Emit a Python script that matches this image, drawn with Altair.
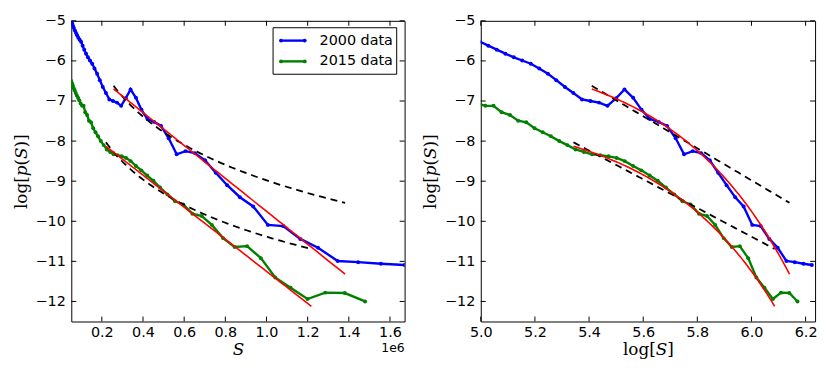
import altair as alt
import numpy as np
import pandas as pd

# ---------------- data ----------------
series_names = ["2000 data", "2015 data"]

logS_2000 = [4.713, 4.744, 4.776, 4.807, 4.839, 4.870, 4.902, 4.933, 4.965, 4.996,
             5.028, 5.059, 5.091, 5.122, 5.153, 5.185, 5.216, 5.248, 5.279, 5.311,
             5.342, 5.374, 5.405, 5.437, 5.468, 5.500, 5.531, 5.563, 5.594, 5.625,
             5.657, 5.688, 5.720, 5.751, 5.783, 5.814, 5.846, 5.877, 5.908, 5.940,
             5.971, 6.003, 6.034, 6.066, 6.097, 6.129, 6.160, 6.192, 6.223]
logp_2000 = [-5.00, -5.06, -5.12, -5.18, -5.24, -5.30, -5.36, -5.42, -5.47, -5.52,
             -5.62, -5.72, -5.82, -5.91, -5.99, -6.07, -6.19, -6.32, -6.48, -6.65,
             -6.80, -6.96, -7.00, -7.04, -7.12, -6.93, -6.71, -6.92, -7.22, -7.45,
             -7.52, -7.62, -7.93, -8.33, -8.25, -8.30, -8.48, -8.79, -9.10, -9.40,
             -9.63, -10.09, -10.12, -10.44, -10.66, -10.99, -11.02, -11.06, -11.09]

logS_2015 = [4.713, 4.743, 4.774, 4.804, 4.834, 4.865, 4.895, 4.925, 4.956, 4.986,
             5.017, 5.047, 5.077, 5.108, 5.138, 5.168, 5.199, 5.229, 5.259, 5.290,
             5.320, 5.350, 5.381, 5.411, 5.441, 5.472, 5.502, 5.532, 5.563, 5.593,
             5.624, 5.654, 5.684, 5.715, 5.745, 5.775, 5.806, 5.836, 5.866, 5.897,
             5.927, 5.957, 5.988, 6.018, 6.048, 6.079, 6.109, 6.140, 6.170]
logp_2015 = [-6.50, -6.56, -6.62, -6.68, -6.74, -6.80, -6.86, -6.92, -6.98, -7.06,
             -7.12, -7.12, -7.28, -7.35, -7.49, -7.53, -7.68, -7.78, -7.88, -8.00,
             -8.10, -8.21, -8.27, -8.33, -8.35, -8.38, -8.42, -8.50, -8.62, -8.73,
             -8.86, -8.99, -9.16, -9.33, -9.50, -9.58, -9.81, -9.87, -10.09, -10.42,
             -10.64, -10.62, -10.92, -11.40, -11.66, -11.94, -11.78, -11.79, -12.00]

# fitted models: exponential (straight in S) and power law (straight in log S)
fit_S_start = [0.257, 0.220]      # units of 1e6
fit_S_end = [1.382, 1.218]
exp_fit_start = [-6.70, -8.13]
exp_fit_end = [-11.32, -12.12]
pow_fit_start = [-6.62, -8.03]
pow_fit_end = [-9.54, -10.69]

x_ticks_left = [0.2, 0.4, 0.6, 0.8, 1.0, 1.2, 1.4, 1.6]
x_ticks_right = [5.0, 5.2, 5.4, 5.6, 5.8, 6.0, 6.2]
y_ticks = [-5, -6, -7, -8, -9, -10, -11, -12]

BLUE = "#0000ff"
GREEN = "#008000"
RED = "#ff0000"

# ---------------- tables ----------------
rows = []
for name, Ls, ps in ((series_names[0], logS_2000, logp_2000),
                     (series_names[1], logS_2015, logp_2015)):
    for L, p in zip(Ls, ps):
        rows.append({"series": name, "logS": L, "S": 10 ** L / 1e6, "logp": p})
df = pd.DataFrame(rows)

fit_rows = []
for i, name in enumerate(series_names):
    L0 = np.log10(fit_S_start[i] * 1e6)
    L1 = np.log10(fit_S_end[i] * 1e6)
    for t in np.linspace(0, 1, 81):
        L = L0 + t * (L1 - L0)
        S = 10 ** L / 1e6
        v_exp = exp_fit_start[i] + (S - fit_S_start[i]) / (fit_S_end[i] - fit_S_start[i]) * (exp_fit_end[i] - exp_fit_start[i])
        v_pow = pow_fit_start[i] + t * (pow_fit_end[i] - pow_fit_start[i])
        fit_rows.append({"series": name, "kind": "exp", "t": t, "logS": L, "S": S, "logp": v_exp})
        fit_rows.append({"series": name, "kind": "pow", "t": t, "logS": L, "S": S, "logp": v_pow})
fits = pd.DataFrame(fit_rows)

H = 304
TICK = 5
Y_TITLE = "log[\U0001D45D(\U0001D446)]"


def panel(xf, dom, xt, xtitle, W, left):
    X = alt.X(f"{xf}:Q", scale=alt.Scale(domain=dom, nice=False, zero=False),
              axis=alt.Axis(values=xt, format=".1f", title=xtitle, labelPadding=4,
                            titlePadding=3, labelFlush=False))
    Y = alt.Y("logp:Q", scale=alt.Scale(domain=[-12.5, -5], nice=False, zero=False),
              axis=alt.Axis(values=y_ticks, format="d", title=Y_TITLE,
                            labelPadding=6, titlePadding=5, labelFlush=False))
    col = alt.Color("series:N", scale=alt.Scale(domain=series_names, range=[BLUE, GREEN]),
                    legend=None)

    data_layer = alt.Chart(df).mark_line(
        clip=True, strokeWidth=2.4,
        point=alt.OverlayMarkDef(filled=True, size=16, clip=True)
    ).encode(x=X, y=Y, color=col, order="logS:Q")

    pow_layer = alt.Chart(fits[fits.kind == "pow"]).mark_line(
        clip=True, color="black", strokeWidth=1.8, strokeDash=[7, 5]
    ).encode(x=X, y=Y, detail="series:N", order="t:Q")

    exp_layer = alt.Chart(fits[fits.kind == "exp"]).mark_line(
        clip=True, color=RED, strokeWidth=1.6
    ).encode(x=X, y=Y, detail="series:N", order="t:Q")

    xt_df = pd.DataFrame({xf: xt})
    yt_df = pd.DataFrame({"logp": y_ticks})
    tb = alt.Chart(xt_df).mark_rule(color="black", strokeWidth=1).encode(
        x=X, y=alt.value(H), y2=alt.value(H - TICK))
    tt = alt.Chart(xt_df).mark_rule(color="black", strokeWidth=1).encode(
        x=X, y=alt.value(0), y2=alt.value(TICK))
    tl = alt.Chart(yt_df).mark_rule(color="black", strokeWidth=1).encode(
        y=Y, x=alt.value(0), x2=alt.value(TICK))
    tr = alt.Chart(yt_df).mark_rule(color="black", strokeWidth=1).encode(
        y=Y, x=alt.value(W), x2=alt.value(W - TICK))

    layers = [data_layer, pow_layer, exp_layer, tb, tt, tl, tr]

    if left:
        off = alt.Chart(pd.DataFrame({"t": ["1e6"]})).mark_text(
            align="right", baseline="middle", fontSize=12.5, font="DejaVu Sans", color="black"
        ).encode(text="t:N", x=alt.value(W), y=alt.value(H + 27))
        box = alt.Chart(pd.DataFrame({"a": [0]})).mark_rect(
            fill="white", stroke="black", strokeWidth=1
        ).encode(x=alt.value(204), x2=alt.value(329), y=alt.value(7), y2=alt.value(54))
        layers += [off, box]
        for i, (name, c) in enumerate(zip(series_names, [BLUE, GREEN])):
            yy = 20 + 21 * i
            ld = pd.DataFrame({"n": [name]})
            layers.append(alt.Chart(ld).mark_rule(color=c, strokeWidth=2.4).encode(
                x=alt.value(212), x2=alt.value(236), y=alt.value(yy)))
            layers.append(alt.Chart(pd.DataFrame({"px": [212, 236]})).mark_point(
                filled=True, size=16, color=c, opacity=1).encode(
                x=alt.X("px:Q", scale=None), y=alt.value(yy)))
            layers.append(alt.Chart(ld).mark_text(
                align="left", baseline="middle", fontSize=14.5, font="DejaVu Sans", color="black"
            ).encode(text="n:N", x=alt.value(251), y=alt.value(yy)))

    return alt.layer(*layers).properties(width=W, height=H)


left = panel("S", [0.0516, 1.6711], x_ticks_left, "\U0001D446", 337, True)
right = panel("logS", [5.0, 6.235], x_ticks_right, "log[\U0001D446]", 338, False)

chart = alt.hconcat(left, right, spacing=15).properties(
    padding={"left": 3, "top": 2, "right": 4, "bottom": 4}
).configure_view(
    stroke="black", strokeWidth=1
).configure_axis(
    grid=False, domain=False, ticks=False, tickSize=0,
    labelFont="DejaVu Sans", labelFontSize=14.5, labelColor="black",
    titleFont="DejaVu Serif", titleFontSize=17, titleFontWeight="normal", titleColor="black"
)

chart.save("out.html", embed_options={"renderer": "svg", "actions": False})
